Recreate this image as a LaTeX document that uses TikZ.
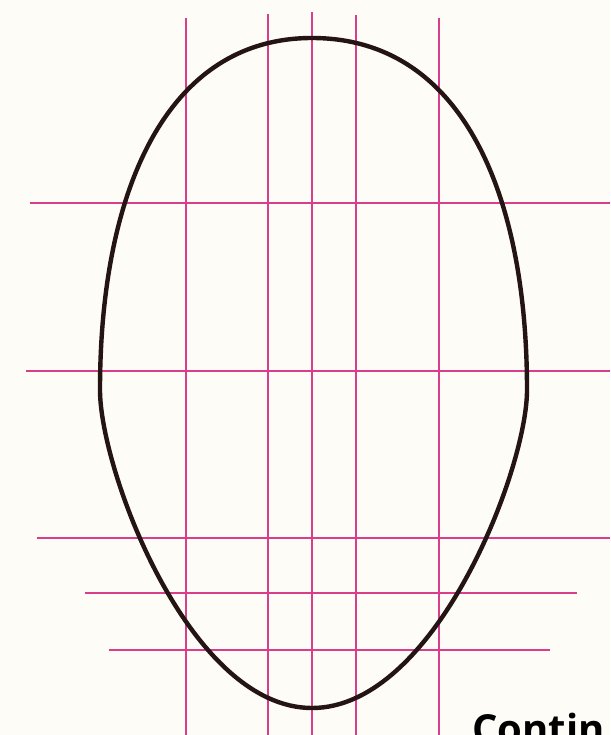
\documentclass[tikz,border=0pt]{standalone}
\usepackage{fontspec}
\setmainfont{Open Sans}
\definecolor{bgcream}{RGB}{253,252,247}
\definecolor{guide}{RGB}{218,62,138}
\definecolor{outline}{RGB}{36,20,20}
\tikzset{
  guideline/.style={draw=guide, line width=2.1pt},
  eggline/.style={draw=outline, line width=4.4pt, line join=round},
  caption/.style={font=\bfseries\fontsize{40}{48}\selectfont, text=black, anchor=base west, inner sep=0pt}
}
\begin{document}
\begin{tikzpicture}[x=1pt, y=-1pt]
\useasboundingbox (0,0) rectangle (610,735);
\clip (0,0) rectangle (610,735);
\fill[bgcream] (0,0) rectangle (610,735);
% vertical guides
\draw[guideline] (186,18) -- (186,735);
\draw[guideline] (268,14) -- (268,735);
\draw[guideline] (312,12) -- (312,735);
\draw[guideline] (356,15) -- (356,735);
\draw[guideline] (439,18) -- (439,735);
% horizontal guides
\draw[guideline] (30,203) -- (610,203);
\draw[guideline] (26,371) -- (610,371);
\draw[guideline] (37,538) -- (610,538);
\draw[guideline] (85,593) -- (577,593);
\draw[guideline] (109,650) -- (550,650);
% egg outline
\coordinate (top) at (312,38);
\coordinate (right) at (527,390);
\coordinate (bottom) at (312,708);
\coordinate (left) at (100,390);
\draw[eggline] (top)
  .. controls (460,38) and (527,190) .. (right)
  .. controls (527,470) and (435,708) .. (bottom)
  .. controls (189,708) and (100,470) .. (left)
  .. controls (100,190) and (167,38) .. (top) -- cycle;
\node[caption] (cont) at (472,743) {Contin};
\end{tikzpicture}
\end{document}
